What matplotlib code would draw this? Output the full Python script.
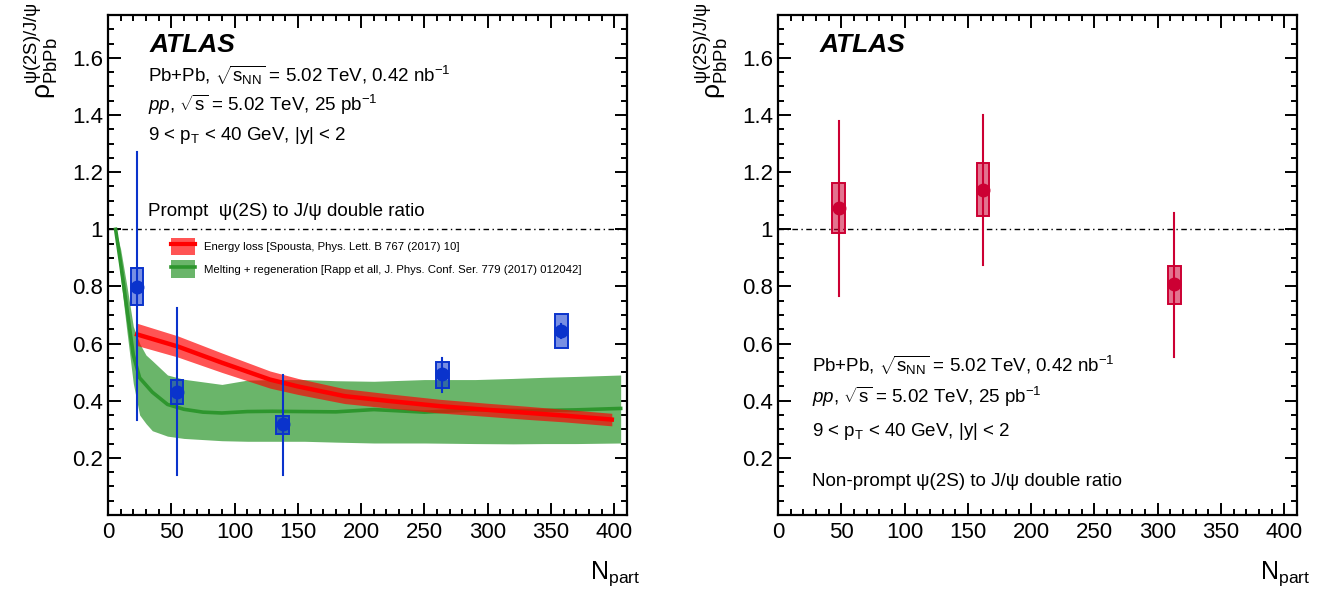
import numpy as np
import matplotlib
matplotlib.use("Agg")
import matplotlib.pyplot as plt
from matplotlib.patches import Patch, Rectangle
from matplotlib.lines import Line2D
from matplotlib.ticker import MultipleLocator, FuncFormatter

plt.rcParams["font.family"] = ["Liberation Sans", "DejaVu Sans"]
plt.rcParams["mathtext.fontset"] = "custom"
plt.rcParams["mathtext.rm"] = "Liberation Sans"
plt.rcParams["mathtext.it"] = "Liberation Sans:italic"
plt.rcParams["mathtext.bf"] = "Liberation Sans:bold"

# ---------------------------------------------------------------------------
# Prompt psi(2S)/J/psi double ratio (left)
# ---------------------------------------------------------------------------
p_npart = [23, 54.5, 138, 264, 358]
p_val = [0.799, 0.431, 0.317, 0.492, 0.644]
p_stat_hi = [1.27, 0.725, 0.489, 0.55, 0.67]
p_stat_lo = [0.332, 0.14, 0.14, 0.431, 0.62]
p_sys_hi = [0.863, 0.471, 0.346, 0.535, 0.702]
p_sys_lo = [0.734, 0.39, 0.285, 0.443, 0.583]

# Energy loss model (Spousta)
eloss_x = [23, 55, 90, 128, 150, 187, 220, 262, 300, 330, 360, 398]
eloss_c = [0.632, 0.59, 0.533, 0.474, 0.45, 0.416, 0.40, 0.381, 0.368, 0.358, 0.348, 0.334]
eloss_lo = [0.593, 0.553, 0.499, 0.444, 0.422, 0.390, 0.375, 0.357, 0.345, 0.335, 0.326, 0.312]
eloss_hi = [0.671, 0.627, 0.567, 0.504, 0.478, 0.442, 0.425, 0.405, 0.391, 0.381, 0.370, 0.356]

# Melting + regeneration model (Rapp)
rapp_x = [6, 10, 15, 20, 25, 30, 35, 47, 60, 75, 90, 110, 130, 155, 180, 210, 250, 290, 320, 345, 370, 405]
rapp_c = [1.0, 0.88, 0.72, 0.56, 0.48, 0.455, 0.43, 0.387, 0.37, 0.36, 0.357, 0.362,
          0.363, 0.362, 0.361, 0.369, 0.36, 0.368, 0.366, 0.366, 0.368, 0.373]
rapp_hi = [1.0, 0.93, 0.80, 0.66, 0.60, 0.56, 0.54, 0.49, 0.475, 0.466, 0.457, 0.472,
           0.474, 0.474, 0.47, 0.468, 0.474, 0.474, 0.478, 0.482, 0.485, 0.49]
rapp_lo = [1.0, 0.83, 0.64, 0.46, 0.35, 0.32, 0.295, 0.276, 0.268, 0.264, 0.26, 0.258,
           0.258, 0.258, 0.255, 0.252, 0.252, 0.25, 0.249, 0.25, 0.25, 0.252]

# ---------------------------------------------------------------------------
# Non-prompt double ratio (right)
# ---------------------------------------------------------------------------
np_npart = [48, 162, 313]
np_val = [1.074, 1.139, 0.807]
np_stat_hi = [1.378, 1.40, 1.056]
np_stat_lo = [0.768, 0.876, 0.553]
np_sys_hi = [1.161, 1.233, 0.873]
np_sys_lo = [0.986, 1.046, 0.740]

BLUE = "#0a33cc"
CRIMSON = "#cc0033"
BOX_HW = 5.0

fig = plt.figure(figsize=(13.2, 5.9), dpi=100)
ax1 = fig.add_axes([108 / 1320, 1 - 515 / 590, 519 / 1320, 500 / 590])
ax2 = fig.add_axes([778 / 1320, 1 - 515 / 590, 519 / 1320, 500 / 590])


def style_axes(ax):
    ax.set_xlim(0, 410)
    ax.set_ylim(0, 1.75)
    ax.xaxis.set_major_locator(MultipleLocator(50))
    ax.xaxis.set_minor_locator(MultipleLocator(10))
    ax.set_yticks(np.arange(0.2, 1.61, 0.2))
    ax.yaxis.set_minor_locator(MultipleLocator(0.05))
    ax.yaxis.set_major_formatter(FuncFormatter(lambda v, p: f"{v:g}"))
    ax.tick_params(which="both", direction="in", top=True, right=True,
                   labelsize=16, width=1.4)
    ax.tick_params(which="major", length=9)
    ax.tick_params(which="minor", length=4.5)
    ax.tick_params(axis="x", pad=5)
    for s in ax.spines.values():
        s.set_linewidth(1.6)
    ax.axhline(1.0, color="black", lw=1.0, ls=(0, (4, 2.5, 1, 2.5)), zorder=1)
    ax.text(-0.165, 1.025, r"$\mathrm{\rho}^{\mathrm{\psi(2S)/J/\psi}}_{\mathrm{PbPb}}$",
            transform=ax.transAxes, rotation=90, ha="left", va="top", fontsize=19)
    ax.text(1.025, -0.118, r"N$_{\mathrm{part}}$", transform=ax.transAxes,
            ha="right", va="center", fontsize=18)
    ax.text(0.08, 0.94, "ATLAS", transform=ax.transAxes, fontsize=19,
            fontweight="bold", style="italic", va="center")


def draw_points(ax, x, y, shi, slo, yhi, ylo, color):
    for xi, yi, a, b, c, d in zip(x, y, shi, slo, yhi, ylo):
        ax.add_patch(Rectangle((xi - BOX_HW, d), 2 * BOX_HW, c - d,
                               facecolor=color, alpha=0.55, edgecolor="none", zorder=5))
        ax.add_patch(Rectangle((xi - BOX_HW, d), 2 * BOX_HW, c - d,
                               facecolor="none", edgecolor=color, lw=1.4, zorder=6))
        ax.plot([xi, xi], [b, a], color=color, lw=1.5, zorder=6)
    ax.plot(x, y, "o", color=color, ms=9, zorder=7)


style_axes(ax1)
style_axes(ax2)

# models
ax1.fill_between(rapp_x, rapp_lo, rapp_hi, color="#6ab56a", lw=0, zorder=2)
ax1.plot(rapp_x, rapp_c, color="#2e962e", lw=2.6, zorder=3)
ax1.fill_between(eloss_x, eloss_lo, eloss_hi, color="red", alpha=0.67, lw=0, zorder=3)
ax1.plot(eloss_x, eloss_c, color="red", lw=3.2, zorder=4)

draw_points(ax1, p_npart, p_val, p_stat_hi, p_stat_lo, p_sys_hi, p_sys_lo, BLUE)
draw_points(ax2, np_npart, np_val, np_stat_hi, np_stat_lo, np_sys_hi, np_sys_lo, CRIMSON)

handles = [
    (Patch(facecolor="red", alpha=0.67, lw=0), Line2D([], [], color="red", lw=3)),
    (Patch(facecolor="#6ab56a", lw=0), Line2D([], [], color="#2e962e", lw=2.6)),
]
labels = ["Energy loss [Spousta, Phys. Lett. B 767 (2017) 10]",
          "Melting + regeneration [Rapp et all, J. Phys. Conf. Ser. 779 (2017) 012042]"]
ax1.legend(handles, labels, loc="upper left", bbox_to_anchor=(0.11, 0.566),
           frameon=False, fontsize=8.2, handlelength=2.1, handleheight=2.0,
           borderpad=0, labelspacing=0.45, handletextpad=0.8)

line1 = r"Pb+Pb, $\sqrt{\mathrm{s_{NN}}}$ = 5.02 TeV, 0.42 nb$^{\mathrm{-1}}$"
line2 = r"$\mathit{pp}$, $\sqrt{\mathrm{s}}$ = 5.02 TeV, 25 pb$^{\mathrm{-1}}$"
line3 = r"9 < p$_{\mathrm{T}}$ < 40 GeV, |y| < 2"

ax1.text(0.077, 0.88, line1, transform=ax1.transAxes, fontsize=13.5, va="center")
ax1.text(0.077, 0.82, line2, transform=ax1.transAxes, fontsize=13.5, va="center")
ax1.text(0.077, 0.758, line3, transform=ax1.transAxes, fontsize=13.5, va="center")
ax1.text(0.077, 0.608, "Prompt  ψ(2S) to J/ψ double ratio", transform=ax1.transAxes,
         fontsize=13.5, va="center")

ax2.text(0.066, 0.30, line1, transform=ax2.transAxes, fontsize=13.5, va="center")
ax2.text(0.066, 0.236, line2, transform=ax2.transAxes, fontsize=13.5, va="center")
ax2.text(0.066, 0.168, line3, transform=ax2.transAxes, fontsize=13.5, va="center")
ax2.text(0.066, 0.068, "Non-prompt ψ(2S) to J/ψ double ratio", transform=ax2.transAxes,
         fontsize=13.5, va="center")

fig.savefig("out.png", dpi=100)
